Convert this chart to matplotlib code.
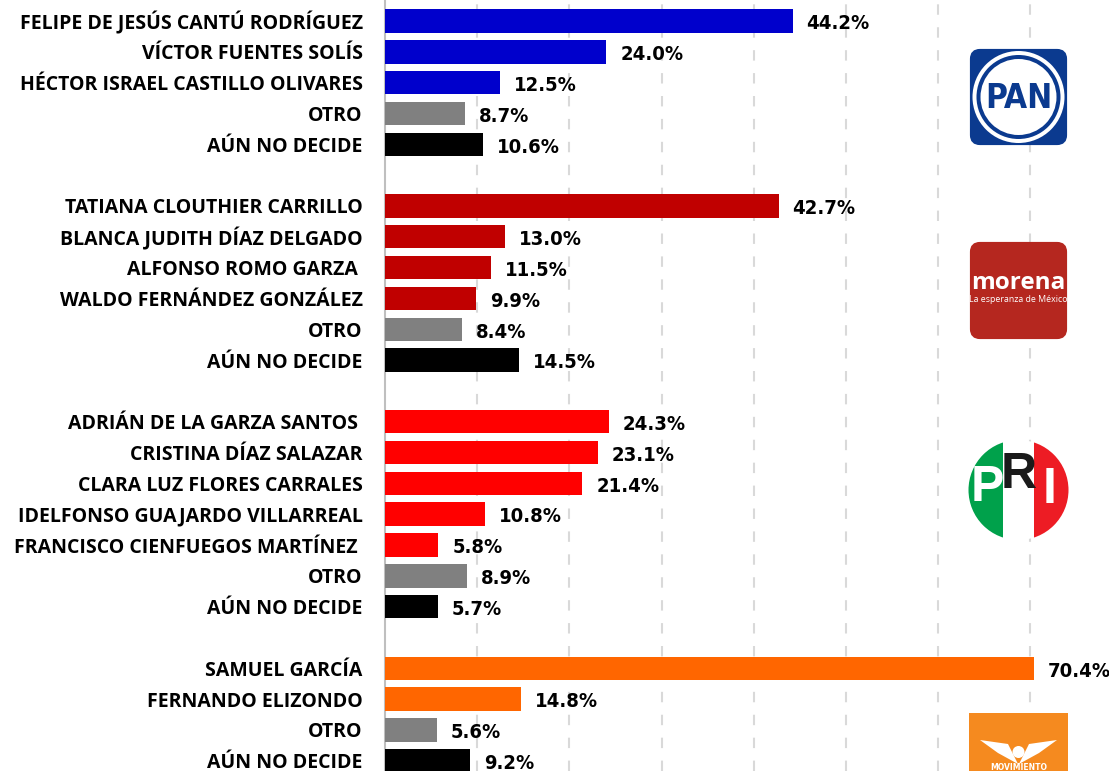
import matplotlib
matplotlib.use("Agg")
import matplotlib.pyplot as plt
from matplotlib.patches import FancyBboxPatch, Circle, Rectangle, Polygon
from matplotlib import font_manager

# Data
pan_names = ["FELIPE DE JESÚS CANTÚ RODRÍGUEZ", "VÍCTOR FUENTES SOLÍS",
             "HÉCTOR ISRAEL CASTILLO OLIVARES", "OTRO", "AÚN NO DECIDE"]
pan_values = [44.2, 24.0, 12.5, 8.7, 10.6]

morena_names = ["TATIANA CLOUTHIER CARRILLO", "BLANCA JUDITH DÍAZ DELGADO",
                "ALFONSO ROMO GARZA ", "WALDO FERNÁNDEZ GONZÁLEZ", "OTRO", "AÚN NO DECIDE"]
morena_values = [42.7, 13.0, 11.5, 9.9, 8.4, 14.5]

pri_names = ["ADRIÁN DE LA GARZA SANTOS ", "CRISTINA DÍAZ SALAZAR",
             "CLARA LUZ FLORES CARRALES", "IDELFONSO GUAJARDO VILLARREAL",
             "FRANCISCO CIENFUEGOS MARTÍNEZ ", "OTRO", "AÚN NO DECIDE"]
pri_values = [24.3, 23.1, 21.4, 10.8, 5.8, 8.9, 5.7]

mc_names = ["SAMUEL GARCÍA", "FERNANDO ELIZONDO", "OTRO", "AÚN NO DECIDE"]
mc_values = [70.4, 14.8, 5.6, 9.2]

party_colors = ["#0000CC", "#C00000", "#FF0000", "#FF6600"]
otro_color = "#808080"
nodecide_color = "#000000"

groups = [(pan_names, pan_values), (morena_names, morena_values),
          (pri_names, pri_values), (mc_names, mc_values)]

# condensed face for the numbers, if the system has one
has_condensed = any(f.name == "DejaVu Sans" and f.stretch == "condensed"
                    for f in font_manager.fontManager.ttflist)
if has_condensed:
    num_font = dict(family="DejaVu Sans", fontstretch="condensed", fontsize=14.5)
else:
    num_font = dict(family="Liberation Sans", fontsize=14.5)

# Build rows (blank row between parties)
labels, values, colors, positions = [], [], [], []
row = 0
for (names, vals), pc in zip(groups, party_colors):
    for n, v in zip(names, vals):
        labels.append(n)
        values.append(v)
        if n == "OTRO":
            colors.append(otro_color)
        elif n == "AÚN NO DECIDE":
            colors.append(nodecide_color)
        else:
            colors.append(pc)
        positions.append(row)
        row += 1
    row += 1

fig = plt.figure(figsize=(11.09, 7.71), dpi=100)
ax = fig.add_axes([385 / 1109, 0, 1 - 385 / 1109, 1])

ax.barh(positions, values, height=0.76, color=colors, zorder=3)
ax.set_ylim(24.33, -0.68)
ax.set_xlim(0, 724 / 9.22)

ax.set_yticks(positions)
ax.set_yticklabels(labels, fontsize=14, fontweight="bold", family="Open Sans")
ax.tick_params(axis="y", length=0, pad=16)
ax.set_xticks([10, 20, 30, 40, 50, 60, 70])
ax.tick_params(axis="x", length=0, labelbottom=False)
ax.xaxis.grid(True, linestyle=(0, (5, 6)), color="#D9D9D9", linewidth=1.5)
ax.set_axisbelow(True)
for s in ["top", "right", "bottom"]:
    ax.spines[s].set_visible(False)
ax.spines["left"].set_color("#BFBFBF")
ax.spines["left"].set_linewidth(1.5)

for p, v in zip(positions, values):
    ax.annotate(f"{v:.1f}%", xy=(v, p), xytext=(10, -2), textcoords="offset points",
                ha="left", va="center", fontweight="bold", **num_font)

# Party logos drawn in pixel coordinates on an overlay
lg = fig.add_axes([0, 0, 1, 1], zorder=5)
lg.set_xlim(0, 1109)
lg.set_ylim(771, 0)
lg.axis("off")
lg.patch.set_alpha(0)

# PAN
lg.add_patch(FancyBboxPatch((972, 51), 93, 92, boxstyle="round,pad=0,rounding_size=8",
                            fc="#0B3A8F", ec="#0B3A8F", lw=3))
lg.add_patch(Circle((1018.5, 97), 46, fc="white", ec="none"))
lg.add_patch(Circle((1018.5, 97), 42, fc="#0B3A8F", ec="none"))
lg.add_patch(Circle((1018.5, 97), 38, fc="white", ec="none"))
lg.text(1018.5, 99, "PAN", color="#0B3A8F", fontsize=24, fontweight="bold",
        ha="center", va="center", **{k: v for k, v in num_font.items() if k != "fontsize"})

# morena
lg.add_patch(FancyBboxPatch((972, 244), 93, 93, boxstyle="round,pad=0,rounding_size=8",
                            fc="#B5271F", ec="#B5271F", lw=3))
lg.text(1018.5, 283, "morena", color="white", fontsize=17.5, fontweight="bold",
        family="Open Sans", ha="center", va="center")
lg.text(1018.5, 300, "La esperanza de México", color="white", fontsize=6.3,
        family="Open Sans", ha="center", va="center")

# PRI
clip = Circle((1018.5, 490), 50, transform=lg.transData)
for x0, c in [(968, "#00A14B"), (1003, "white"), (1034, "#ED1C24")]:
    r = Rectangle((x0, 438), 35, 104, fc=c, ec="none")
    lg.add_patch(r)
    r.set_clip_path(clip)
lg.text(987, 488, "P", color="white", fontsize=36, fontweight="bold",
        family="Liberation Sans", ha="center", va="center")
lg.text(1019, 475, "R", color="#1A1A1A", fontsize=36, fontweight="bold",
        family="Liberation Sans", ha="center", va="center")
lg.text(1050, 490, "I", color="white", fontsize=36, fontweight="bold",
        family="Liberation Sans", ha="center", va="center")

# Movimiento Ciudadano
lg.add_patch(Rectangle((969, 713), 99, 60, fc="#F58A1F", ec="none"))
lg.add_patch(Polygon([(980, 740), (1008, 744), (1018, 764), (998, 753)], fc="white", ec="none"))
lg.add_patch(Polygon([(1057, 740), (1029, 744), (1019, 764), (1039, 753)], fc="white", ec="none"))
lg.add_patch(Circle((1018.5, 752), 6, fc="white", ec="none"))
lg.text(1018.5, 767, "MOVIMIENTO", color="white", fontsize=5.5, fontweight="bold",
        ha="center", va="center")

fig.savefig("out.png", dpi=100)
